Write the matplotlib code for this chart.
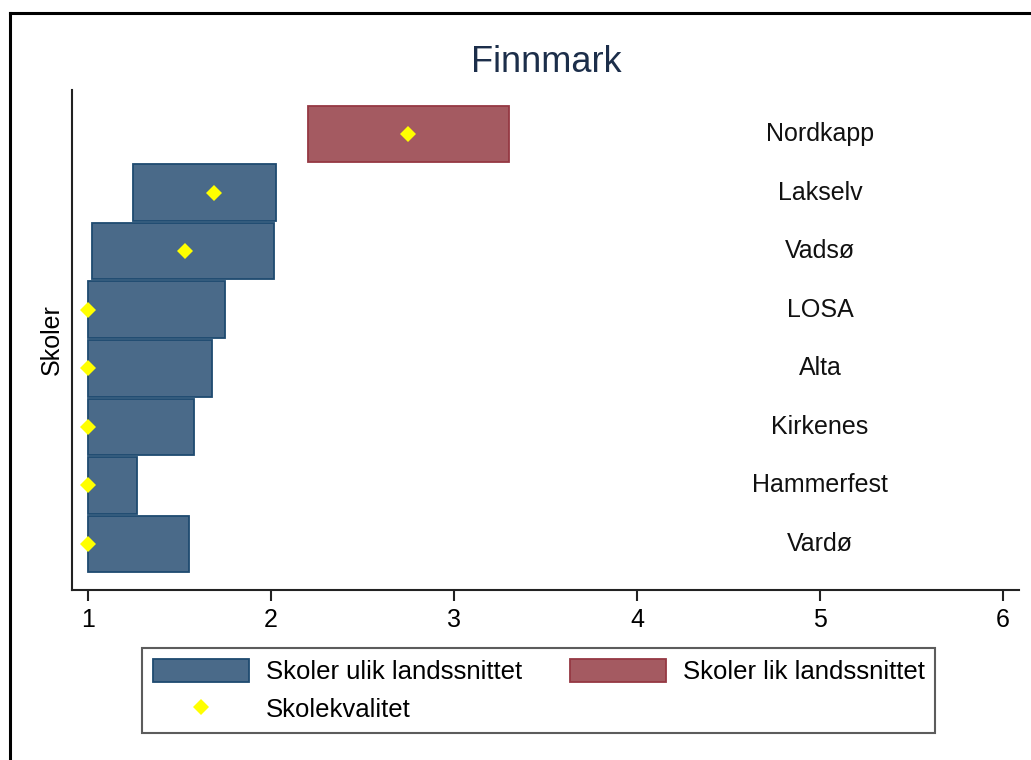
import matplotlib
matplotlib.use("Agg")
import matplotlib.pyplot as plt
from matplotlib.patches import Patch
from matplotlib.lines import Line2D

plt.rcParams['font.family'] = ['Liberation Sans', 'DejaVu Sans']

# Data (bottom to top)
schools = ["Vardø", "Hammerfest", "Kirkenes", "Alta", "LOSA", "Vadsø", "Lakselv", "Nordkapp"]
low = [1.0, 1.0, 1.0, 1.0, 1.0, 1.02, 1.245, 2.205]
high = [1.55, 1.27, 1.58, 1.678, 1.75, 2.016, 2.027, 3.30]
quality = [1.0, 1.0, 1.0, 1.0, 1.0, 1.528, 1.689, 2.747]
like_national = [False, False, False, False, False, False, False, True]
xticks = [1, 2, 3, 4, 5, 6]

title = "Finnmark"
ylabel = "Skoler"
legend_labels = ["Skoler ulik landssnittet", "Skoler lik landssnittet", "Skolekvalitet"]

blue_fill, blue_edge = "#4a6a89", "#1e4a70"
red_fill, red_edge = "#a45a61", "#953843"
yellow = "#ffff00"

W, H = 1031, 760
fig = plt.figure(figsize=(W / 100, H / 100), dpi=100)
ax = fig.add_axes([72 / W, 1 - 590 / H, (1019 - 72) / W, (590 - 90) / H])

ypos = list(range(1, len(schools) + 1))
for y, lo, hi, eq in zip(ypos, low, high, like_national):
    fc, ec = (red_fill, red_edge) if eq else (blue_fill, blue_edge)
    ax.barh(y, hi - lo, left=lo, height=0.965, color=fc, edgecolor=ec, linewidth=1.3, zorder=2)
ax.plot(quality, ypos, linestyle="none", marker="D", markersize=8.5, color=yellow,
        markeredgewidth=0, zorder=3)
for y, name in zip(ypos, schools):
    ax.text(5, y, name, ha="center", va="center", fontsize=18, color="#111111")

ax.set_xlim(0.913, 6.087)
ax.set_ylim(0.215, 8.751)
ax.set_xticks(xticks)
ax.set_xticklabels([str(t) for t in xticks], fontsize=18)
ax.set_yticks([])
ax.spines["top"].set_visible(False)
ax.spines["right"].set_visible(False)
for s in ("left", "bottom"):
    ax.spines[s].set_linewidth(1.5)
    ax.spines[s].set_color("#222222")
ax.tick_params(axis="x", length=8, width=1.5, color="#222222", pad=5)

fig.text(52 / W, 1 - 340 / H, ylabel, rotation=90, ha="center", va="center", fontsize=18)
fig.text(546 / W, 1 - 63 / H, title, ha="center", va="center", fontsize=26, color="#1c2e4a")

handles = [
    Patch(facecolor=blue_fill, edgecolor=blue_edge, linewidth=1.3),
    Line2D([], [], linestyle="none", marker="D", markersize=8.5, color=yellow, markeredgewidth=0),
    Patch(facecolor=red_fill, edgecolor=red_edge, linewidth=1.3),
]
labels = [legend_labels[0], legend_labels[2], legend_labels[1]]
leg = fig.legend(handles, labels, loc="upper left", ncol=2,
                 bbox_to_anchor=(142 / W, 1 - 648 / H),
                 fontsize=18.5, frameon=True, fancybox=False, handlelength=3.75, handleheight=1.0,
                 handletextpad=0.65, columnspacing=1.85, borderpad=0.42, labelspacing=0.5,
                 borderaxespad=0)
leg.get_frame().set_edgecolor("#333333")
leg.get_frame().set_linewidth(1.5)

# outer border
fig.add_artist(Line2D([10 / W, 1.0], [1 - 13 / H, 1 - 13 / H], transform=fig.transFigure, color="black", linewidth=2.2))
fig.add_artist(Line2D([10 / W, 10 / W], [0, 1 - 13 / H], transform=fig.transFigure, color="black", linewidth=2.2))

fig.savefig("out.png", dpi=100)
